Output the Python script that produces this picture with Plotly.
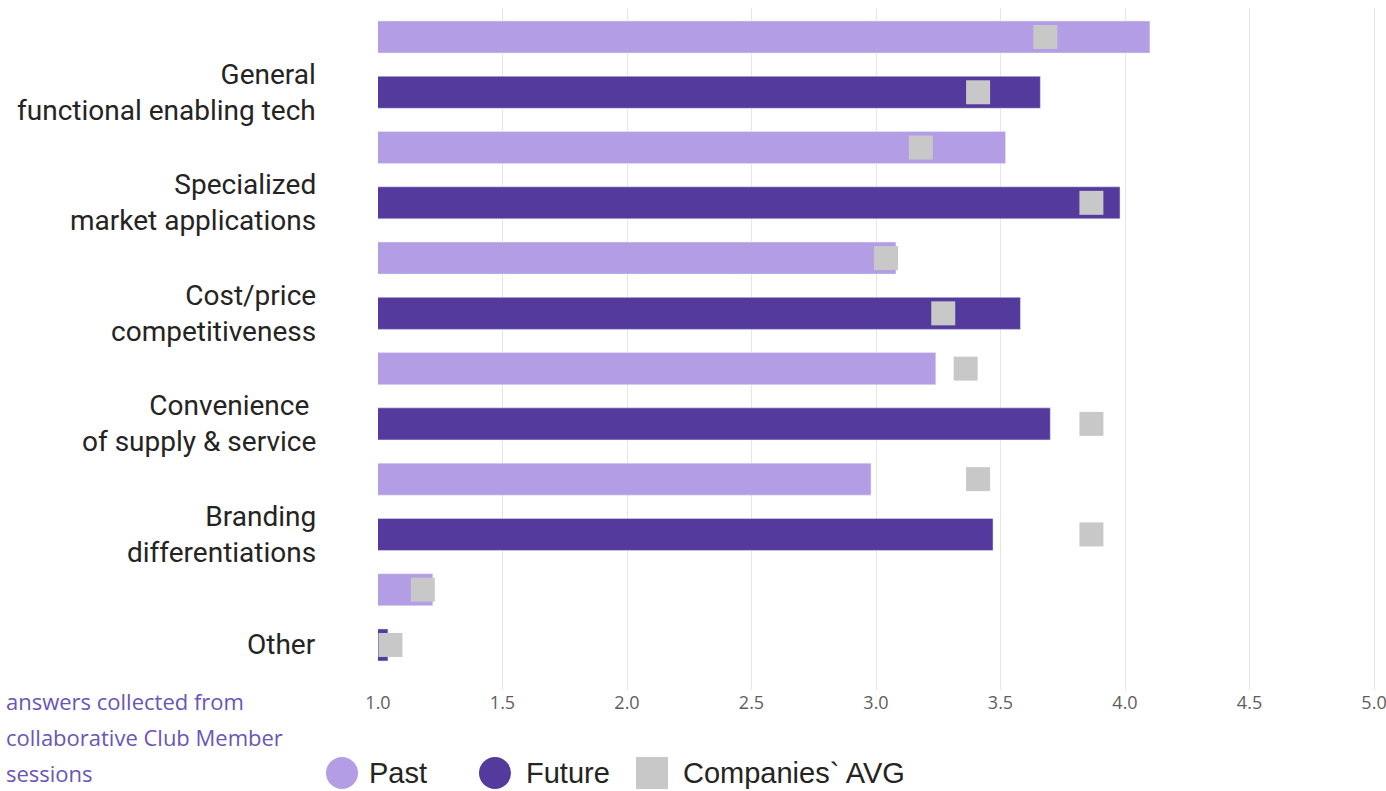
import plotly.graph_objects as go

categories = ["General<br>functional enabling tech", "Specialized<br>market applications",
              "Cost/price<br>competitiveness", "Convenience <br>of supply & service",
              "Branding<br>differentiations", "Other"]
past = [4.10, 3.52, 3.08, 3.24, 2.98, 1.22]
future = [3.66, 3.98, 3.58, 3.70, 3.47, 1.04]
avg_past = [3.68, 3.18, 3.04, 3.36, 3.41, 1.18]
avg_future = [3.41, 3.865, 3.27, 3.865, 3.865, 1.05]
x_ticks = [1.0, 1.5, 2.0, 2.5, 3.0, 3.5, 4.0, 4.5, 5.0]
note_lines = ["answers collected from", "collaborative Club Member", "sessions"]
legend_names = ["Past", "Future", "Companies` AVG"]

PAST_C = "#b39ee5"
FUT_C = "#533a9c"
AVG_C = "#c8c8c8"

W, H = 1386, 791
ML, MR, MT, MB = 378, 7, 8, 101
PW, PH = W - ML - MR, H - MT - MB


def px(x):
    return (x - ML) / PW


def py(y):
    return (H - MB - y) / PH


y_past = [2 * i for i in range(len(categories))]
y_fut = [2 * i + 1 for i in range(len(categories))]

fig = go.Figure()
fig.add_trace(go.Bar(x=past, y=y_past, orientation="h", marker_color=PAST_C,
                     width=0.58, name="Past", showlegend=False))
fig.add_trace(go.Bar(x=future, y=y_fut, orientation="h", marker_color=FUT_C,
                     width=0.58, name="Future", showlegend=False))
fig.add_trace(go.Scatter(x=avg_past + avg_future, y=y_past + y_fut, mode="markers",
                         marker=dict(symbol="square", size=24, color=AVG_C),
                         name="Companies` AVG", showlegend=False))

fig.update_layout(
    width=W, height=H,
    margin=dict(l=ML, r=MR, t=MT, b=MB, autoexpand=False),
    plot_bgcolor="white", paper_bgcolor="white",
    barmode="overlay",
    xaxis=dict(range=[1, 5.02], tickvals=x_ticks, ticktext=[f"{v:.1f}" for v in x_ticks],
               showgrid=True, gridcolor="#e6e6e6", gridwidth=1, zeroline=False,
               showline=False, ticks="", ticklabeloverflow="allow", automargin=False,
               tickfont=dict(family="Open Sans", size=18, color="#605e5c")),
    yaxis=dict(range=[11.815, -0.525], showgrid=False, zeroline=False,
               showticklabels=False, showline=False, automargin=False),
)

for i, c in enumerate(categories):
    fig.add_annotation(x=px(318), xref="paper", y=y_fut[i], yref="y", text=c,
                       showarrow=False, xanchor="right", yanchor="middle", align="right",
                       font=dict(family="Roboto", size=28, color="#252423"))

for j, line in enumerate(note_lines):
    fig.add_annotation(x=px(4), xref="paper", y=py(701 + 36 * j), yref="paper", text=line,
                       showarrow=False, xanchor="left", yanchor="middle",
                       font=dict(family="Open Sans", size=22, color="#6a55b8"))

# custom legend
ly = 773
half = 16
fig.add_shape(type="circle", xref="paper", yref="paper", x0=px(326), x1=px(358),
              y0=py(ly + half), y1=py(ly - half), fillcolor=PAST_C, line_width=0)
fig.add_shape(type="circle", xref="paper", yref="paper", x0=px(479), x1=px(511),
              y0=py(ly + half), y1=py(ly - half), fillcolor=FUT_C, line_width=0)
fig.add_shape(type="rect", xref="paper", yref="paper", x0=px(636), x1=px(668),
              y0=py(ly + half), y1=py(ly - half), fillcolor=AVG_C, line_width=0)
for name, lx in zip(legend_names, [367, 524, 681]):
    fig.add_annotation(x=px(lx), xref="paper", y=py(ly), yref="paper", text=name,
                       showarrow=False, xanchor="left", yanchor="middle",
                       font=dict(family="Liberation Sans", size=29, color="#252423"))

fig.write_html("out.html")
